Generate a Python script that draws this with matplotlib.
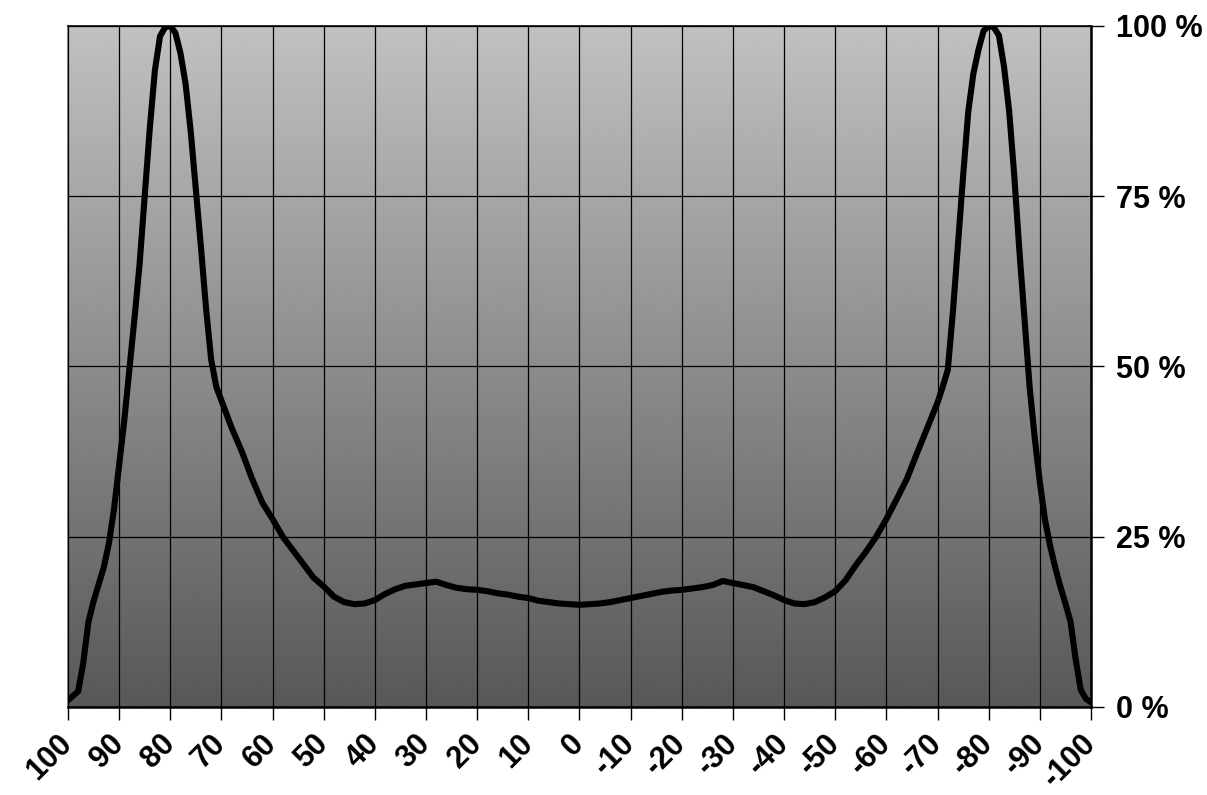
import numpy as np
import matplotlib.pyplot as plt

# angle positions (left to right) and relative intensity in %
angle = [100, 98, 97, 96, 95, 94, 93, 92, 91, 90, 89, 88, 87, 86, 85, 84, 83, 82, 81,
         80, 79, 78, 77, 76, 75, 74, 73, 72, 71, 70, 68, 66, 64, 62, 60, 58, 56, 54,
         52, 50, 48, 46, 44, 42, 40, 38, 36, 34, 32, 30, 28, 26, 24, 22, 20, 18, 16,
         14, 12, 10, 8, 6, 4, 2, 0,
         -2, -4, -6, -8, -10, -12, -14, -16, -18, -20, -22, -24, -26, -28, -30, -32,
         -34, -36, -38, -40, -42, -44, -46, -48, -50, -52, -54, -56, -58, -60, -62,
         -64, -66, -68, -70, -71, -72, -73, -74, -75, -76, -77, -78, -79, -80, -81,
         -82, -83, -84, -85, -86, -87, -88, -89, -90, -91, -92, -93, -94, -95, -96,
         -97, -98, -99, -100]
intensity = [1.0, 2.3, 6.5, 12.5, 15.5, 18.0, 20.5, 24.0, 29.0, 35.5, 42.0, 49.5, 57.0,
             65.0, 75.0, 85.0, 93.5, 98.5, 99.8,
             100.0, 99.0, 96.0, 91.5, 84.5, 76.0, 67.5, 58.5, 51.0, 47.0, 45.0, 41.0,
             37.5, 33.5, 30.0, 27.6, 25.0, 23.0, 21.0, 19.0, 17.7, 16.2, 15.4, 15.1,
             15.2, 15.7, 16.6, 17.3, 17.8, 18.0, 18.2, 18.4, 17.9, 17.5, 17.3, 17.2,
             17.0, 16.7, 16.5, 16.2, 16.0, 15.6, 15.4, 15.2, 15.1, 15.0,
             15.1, 15.2, 15.4, 15.7, 16.0, 16.3, 16.6, 16.9, 17.1, 17.2, 17.4, 17.6,
             17.9, 18.5, 18.2, 17.9, 17.6, 17.0, 16.4, 15.7, 15.2, 15.1, 15.4, 16.1,
             17.0, 18.6, 20.8, 22.8, 25.0, 27.6, 30.5, 33.5, 37.3, 41.0, 44.7, 47.0,
             49.5, 58.0, 68.0, 78.0, 87.4, 93.0, 96.5, 99.3, 100.0, 99.8,
             98.6, 94.0, 87.5, 78.0, 67.0, 57.0, 47.0, 39.5, 33.0, 27.5, 23.7, 20.5,
             17.7, 15.2, 12.5, 7.0, 2.5, 1.2, 0.7]

xticks = list(range(100, -101, -10))
xlabels = [str(v) for v in xticks]
yticks = [0, 25, 50, 75, 100]
ylabels = ['%d %%' % v for v in yticks]

plt.rcParams['font.family'] = ['Liberation Sans', 'DejaVu Sans']

fig = plt.figure(figsize=(12.07, 7.95), dpi=100)
ax = fig.add_axes([0.0563, 0.1107, 0.8476, 0.8566])

# grey gradient plot area
grad = np.linspace(0.345, 0.755, 256).reshape(-1, 1)
ax.imshow(grad, cmap='gray', vmin=0, vmax=1, aspect='auto',
          extent=[100, -100, 0, 100], origin='lower', zorder=0)

ax.plot(angle, intensity, color='black', lw=4.4, solid_joinstyle='round',
        solid_capstyle='round', zorder=3)

ax.set_xlim(100, -100)
ax.set_ylim(0, 100)
ax.set_xticks(xticks)
ax.set_xticklabels(xlabels, rotation=45, ha='right', va='center',
                   rotation_mode='anchor', fontsize=22, fontweight='bold')
ax.set_yticks(yticks)
ax.set_yticklabels(ylabels, fontsize=22, fontweight='bold')
ax.yaxis.tick_right()
ax.tick_params(axis='x', length=9, width=1, direction='out', pad=14)
ax.tick_params(axis='y', length=9, width=1, direction='out', pad=9)
ax.grid(True, color='black', lw=0.9, zorder=1)
ax.set_axisbelow(False)

for side in ['bottom', 'right']:
    ax.spines[side].set_linewidth(1.8)
    ax.spines[side].set_color('black')
ax.spines['top'].set_linewidth(1.2)
ax.spines['left'].set_color('#666666')
ax.spines['left'].set_linewidth(1.2)

fig.savefig('out.png', dpi=100)
